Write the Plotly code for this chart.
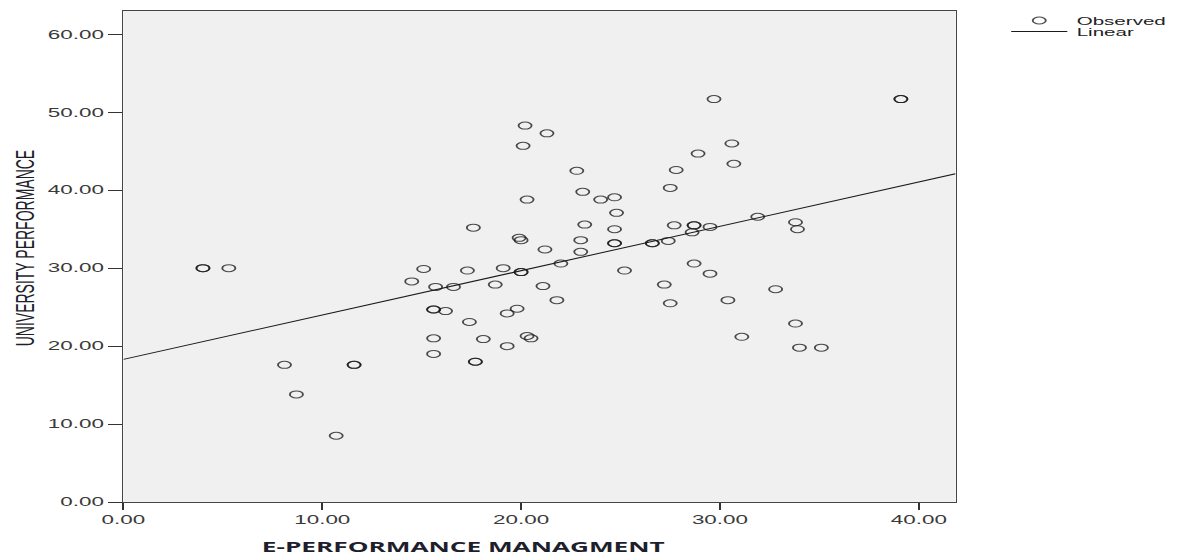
import plotly.graph_objects as go

# E-Performance Management score (x) and University Performance score (y), one pair per respondent
e_perf_mgmt = [
    4.0, 4.0, 5.3, 8.1, 11.6, 11.6, 8.7, 10.7,
    20.2, 21.3, 20.1, 22.8, 23.1, 24.0, 24.7, 20.3, 24.8, 23.2, 24.7, 24.7, 24.7,
    23.0, 23.0, 17.6, 19.9, 20.0, 21.2, 22.0, 15.1, 17.3, 19.1, 20.0, 20.0, 25.2,
    14.5, 15.7, 16.6, 18.7, 21.1, 21.8, 15.6, 15.6, 16.2, 19.3, 19.8, 17.4,
    15.6, 18.1, 20.3, 20.5, 19.3, 15.6, 17.7, 17.7,
    29.7, 39.1, 39.1, 30.6, 28.9, 30.7, 27.8, 27.5, 27.7, 28.7, 28.7, 29.5, 28.6,
    31.9, 33.8, 33.9, 26.6, 26.6, 27.4, 28.7, 29.5, 27.2, 27.5, 30.4, 32.8,
    33.8, 31.1, 34.0, 35.1,
]
univ_perf = [
    30.0, 30.0, 30.0, 17.6, 17.6, 17.6, 13.8, 8.5,
    48.3, 47.3, 45.7, 42.5, 39.8, 38.8, 39.1, 38.8, 37.1, 35.6, 35.0, 33.2, 33.2,
    33.6, 32.1, 35.2, 33.9, 33.6, 32.4, 30.6, 29.9, 29.7, 30.0, 29.5, 29.5, 29.7,
    28.3, 27.6, 27.6, 27.9, 27.7, 25.9, 24.7, 24.7, 24.5, 24.2, 24.8, 23.1,
    21.0, 20.9, 21.3, 21.0, 20.0, 19.0, 18.0, 18.0,
    51.7, 51.7, 51.7, 46.0, 44.7, 43.4, 42.6, 40.3, 35.5, 35.5, 35.5, 35.3, 34.6,
    36.6, 35.9, 35.0, 33.2, 33.2, 33.5, 30.6, 29.3, 27.9, 25.5, 25.9, 27.3,
    22.9, 21.2, 19.8, 19.8,
]

# Linear fit coefficients
fit_intercept = 18.3
fit_slope = 0.569

x_tick_values = [0, 10, 20, 30, 40]
y_tick_values = [0, 10, 20, 30, 40, 50, 60]
x_axis_max = 41.85
y_axis_max = 63.0

# The chart is laid out narrow and widened horizontally in the page
STRETCH = 1.87
FIG_W = 1187 / STRETCH
FIG_H = 558

TICK_FONT = dict(family="Liberation Sans, Arial, sans-serif", size=12, color="#3a3a3a")
INK = "#1e1e2c"

fit_x = [0, x_axis_max]
fit_y = [fit_intercept + fit_slope * v for v in fit_x]

fig = go.Figure()
fig.add_trace(go.Scatter(
    x=e_perf_mgmt, y=univ_perf, mode="markers", name="Observed",
    marker=dict(symbol="circle-open", size=7, color="rgba(25,25,25,0.78)",
                line=dict(width=1)),
    legend="legend",
))
fig.add_trace(go.Scatter(
    x=fit_x, y=fit_y, mode="lines", name="Linear",
    line=dict(color="#1a1a1a", width=1),
    legend="legend2",
))

axis_common = dict(
    ticks="outside", ticklen=7, tickwidth=1, tickcolor="#333333",
    showline=True, linecolor="#444444", linewidth=1, mirror=True,
    showgrid=False, zeroline=False, tickformat=".2f", tickfont=TICK_FONT,
)

plot_left = 123.5 / STRETCH
plot_right = 956.0 / STRETCH

legend_font = dict(family="Liberation Sans, Arial, sans-serif", size=11, color="#222222")
legend_common = dict(xanchor="left", yanchor="top", font=legend_font,
                     bgcolor="rgba(0,0,0,0)", borderwidth=0, itemclick=False,
                     itemdoubleclick=False)

plot_w = plot_right - plot_left
plot_h = 558 - 11 - 56

fig.update_layout(
    width=FIG_W, height=FIG_H,
    margin=dict(l=plot_left, r=FIG_W - plot_right, t=11, b=56, autoexpand=False),
    paper_bgcolor="white", plot_bgcolor="#f0f0f0",
    showlegend=True,
    xaxis=dict(range=[0, x_axis_max], tickvals=x_tick_values, **axis_common),
    yaxis=dict(range=[0, y_axis_max], tickvals=y_tick_values, **axis_common),
    legend=dict(x=(536 - plot_left) / plot_w, y=1 + 5 / plot_h, **legend_common),
    legend2=dict(x=(536 - plot_left) / plot_w, y=1 - 6 / plot_h, **legend_common),
    annotations=[
        dict(text="E-PERFORMANCE MANAGMENT", xref="paper", yref="paper",
             x=(464 / STRETCH - plot_left) / plot_w, y=-44 / plot_h,
             xanchor="center", yanchor="middle", showarrow=False,
             font=dict(family="Open Sans, sans-serif", size=14, color=INK, weight=700)),
        dict(text="UNIVERSITY PERFORMANCE", xref="paper", yref="paper",
             x=(24 / STRETCH - plot_left) / plot_w, y=(502 - 247.5) / plot_h,
             xanchor="center", yanchor="middle", showarrow=False, textangle=-90,
             font=dict(family="Liberation Sans, Arial, sans-serif", size=14, color=INK)),
    ],
)

widen = """
document.documentElement.style.margin = '0';
document.body.style.margin = '0';
document.body.style.overflow = 'hidden';
var gd = document.getElementById('{plot_id}');
gd.style.transformOrigin = '0 0';
gd.style.transform = 'scaleX(%s)';
""" % STRETCH

fig.write_html("out.html", post_script=widen)
